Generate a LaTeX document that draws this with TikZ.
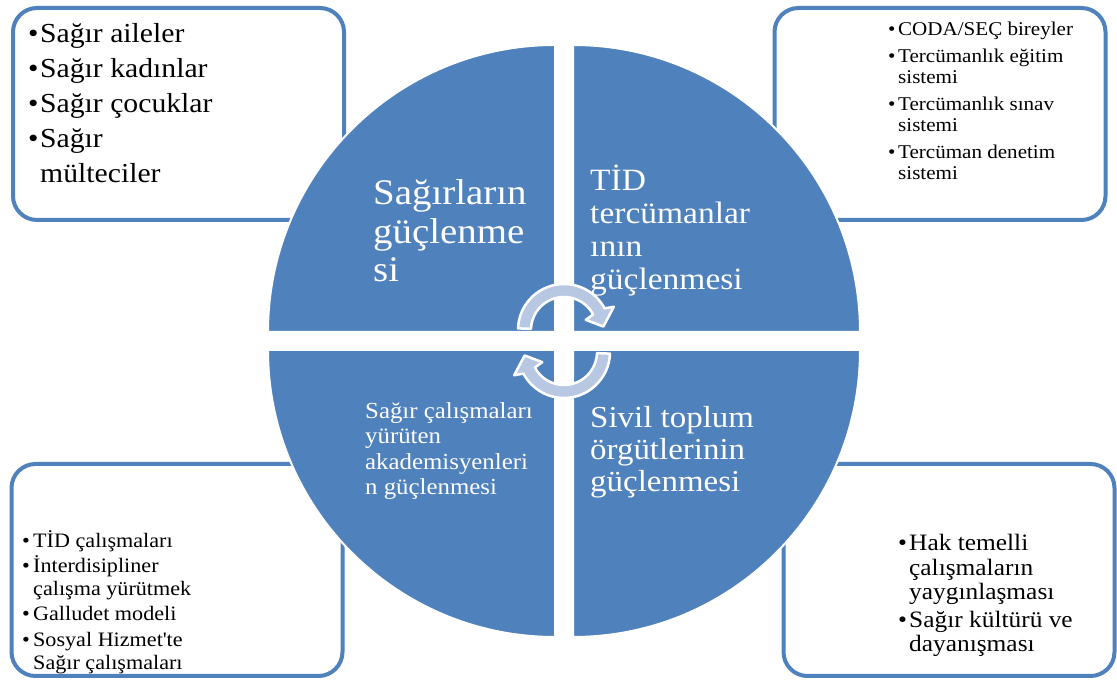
\documentclass[tikz,border=0pt]{standalone}
\usepackage{fontspec}
\setmainfont{Liberation Serif}[FakeStretch=1.08]

\definecolor{accentblue}{HTML}{4F81BD}
\definecolor{cyclefill}{HTML}{B8C7E2}
\newcommand{\blt}[1]{\makebox[#1][l]{\textbullet}}

\begin{document}
\begin{tikzpicture}[
        x=1pt, y=1pt,
        infobox/.style={
                rectangle,
                rounded corners=24pt,
                draw=accentblue,
                fill=white,
                line width=4pt,
                minimum width=331pt,
                minimum height=212pt
            },
        quarter/.style = {fill=accentblue, draw=white, line width=2pt},
        cyclearrow/.style = {fill=cyclefill, draw=white, line width=2.5pt, line join=round},
        quadtext/.style = {anchor=base west, inner sep=0pt, align=left, text=white},
        listtext/.style = {anchor=base west, inner sep=0pt, align=left}
    ]
    \useasboundingbox (0,0) rectangle (1117,682);

    % corner boxes
    \node[infobox] (deafbox)   at (178.5,568) {};
    \node[infobox] (interpbox) at (940,568)   {};
    \node[infobox] (acadbox)   at (177,112)   {};
    \node[infobox] (ngobox)    at (949,112)   {};

    % the four quarters
    \path[quarter] (555,350) -- (268,350) arc[start angle=180, end angle=90, radius=287pt] -- cycle;
    \path[quarter] (573,350) -- (573,637) arc[start angle=90, end angle=0, radius=287pt] -- cycle;
    \path[quarter] (555,332) -- (555,45) arc[start angle=270, end angle=180, radius=287pt] -- cycle;
    \path[quarter] (573,332) -- (860,332) arc[start angle=0, end angle=-90, radius=287pt] -- cycle;

    % texts of the quarters (placed by the baseline of their last line)
    \node[quadtext, font={\fontsize{36}{38.5}\selectfont}] (deafq) at (373,400)
        {Sağırların\\güçlenme\\si};
    \node[quadtext, font={\fontsize{31}{33}\selectfont}] (interpq) at (590,392)
        {TİD\\tercümanlar\\ının\\güçlenmesi};
    \node[quadtext, font={\fontsize{23}{25.5}\selectfont}] (acadq) at (365,187)
        {Sağır çalışmaları\\yürüten\\akademisyenleri\\n güçlenmesi};
    \node[quadtext, font={\fontsize{30.5}{32}\selectfont}] (ngoq) at (590,190)
        {Sivil toplum\\örgütlerinin\\güçlenmesi};

    % texts of the boxes
    \node[listtext, font={\fontsize{27.5}{35}\selectfont}] (deaflist) at (28,499)
        {\blt{12pt}Sağır aileler\\\blt{12pt}Sağır kadınlar\\\blt{12pt}Sağır çocuklar\\
         \blt{12pt}Sağır\\\hspace*{12pt}mülteciler};
    \node[listtext, font={\fontsize{19.5}{21.5}\selectfont}] (interplist) at (888,502)
        {\blt{10pt}CODA/SEÇ bireyler\\[5pt]\blt{10pt}Tercümanlık eğitim\\\hspace*{10pt}sistemi\\[5pt]
         \blt{10pt}Tercümanlık sınav\\\hspace*{10pt}sistemi\\[5pt]
         \blt{10pt}Tercüman denetim\\\hspace*{10pt}sistemi};
    \node[listtext, font={\fontsize{20.5}{23}\selectfont}] (acadlist) at (22,12)
        {\blt{11pt}TİD çalışmaları\\[2pt]\blt{11pt}İnterdisipliner\\\hspace*{11pt}çalışma yürütmek\\[2pt]
         \blt{11pt}Galludet modeli\\[3pt]\blt{11pt}Sosyal Hizmet\textquotesingle te\\\hspace*{11pt}Sağır çalışmaları};
    \node[listtext, font={\fontsize{23.5}{24.5}\selectfont}] (ngolist) at (898,30)
        {\blt{11pt}Hak temelli\\\hspace*{11pt}çalışmaların\\\hspace*{11pt}yaygınlaşması\\[3pt]
         \blt{11pt}Sağır kültürü ve\\\hspace*{11pt}dayanışması};

    % cycle arrows in the middle
    \foreach \cy/\rot in {352/0, 330/180}
        \path[cyclearrow, shift={(564,\cy)}, rotate=\rot]
            (178:46) arc[start angle=178, end angle=28, radius=46pt]
            -- (25:55) -- (5:39.5) -- (25:24) -- (28:33)
            arc[start angle=28, end angle=178, radius=33pt] -- cycle;
\end{tikzpicture}
\end{document}
